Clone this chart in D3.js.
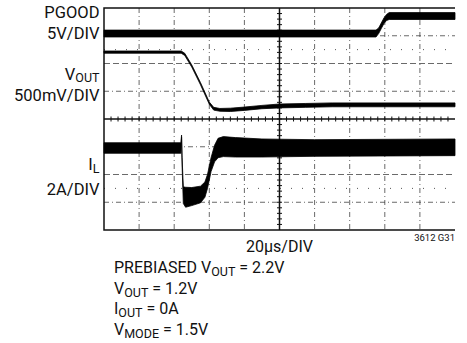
<!DOCTYPE html>
<html>
<head>
<meta charset="utf-8">
<script src="https://cdn.jsdelivr.net/npm/d3@7"></script>
<style>
	body { margin: 0; background: #fff; }
	text { font-family: Roboto, "Liberation Sans", sans-serif; fill: #111; }
</style>
</head>
<body>
<div id="scope"></div>
<script>
// traces: time in µs, value in channel units, noise = half width of the band
let pgood_t = [0, 155, 156.5, 158, 159.5, 161, 162.5, 200];
let pgood_v = [0, 0, 0.5, 1.4, 2.3, 2.9, 3.15, 3.15];
let pgood_n = [0.62, 0.62, 0.5, 0.5, 0.5, 0.55, 0.62, 0.62];

let vout_t = [0, 44, 46, 50, 55, 60, 62.5, 66, 72, 80, 90, 100, 115, 130, 200];
let vout_v = [2.17, 2.17, 2.13, 1.92, 1.6, 1.25, 1.15, 1.13, 1.13, 1.15, 1.18, 1.2, 1.21, 1.22, 1.22];
let vout_n = [0.02, 0.02, 0.02, 0.02, 0.02, 0.02, 0.025, 0.025, 0.03, 0.03, 0.03, 0.035, 0.035, 0.035, 0.035];

let il_t = [0, 43.8, 44.2, 44.5, 45.2, 46.5, 50, 55, 57.5, 59, 61, 63, 65, 68, 75, 90, 120, 200];
let il_v = [0, 0, 0.85, -1.0, -3.4, -3.55, -3.5, -3.35, -3.0, -2.4, -1.2, -0.4, 0, 0.1, 0.05, 0, 0, 0.05];
let il_n = [0.38, 0.38, 0.08, 0.3, 0.6, 0.72, 0.65, 0.6, 0.55, 0.5, 0.5, 0.6, 0.7, 0.72, 0.7, 0.65, 0.6, 0.6];

// channel settings: units per division, ground position in divisions
let ch_per_div = [5, 0.5, 2];
let ch_offset = [3.08, -1.93, -1.045];

// labels
let ch_name = ["PGOOD", "V", "I"];
let ch_sub = ["", "OUT", "L"];
let ch_scale = ["5V/DIV", "500mV/DIV", "2A/DIV"];
let time_label = "20µs/DIV";
let fig_id = "3612 G31";
let notes = [
	["PREBIASED V", "OUT", " = 2.2V"],
	["V", "OUT", " = 1.2V"],
	["I", "OUT", " = 0A"],
	["V", "MODE", " = 1.5V"]
];

function scope() {
	let container = "#scope",
		width = 467,
		height = 343;

	let box = {left: 104, right: 455, top: 8, bottom: 230};

	let svg = d3.select(container)
		.append("svg")
		.attr("width", width)
		.attr("height", height)

	svg.append("rect")
		.attr("width", width)
		.attr("height", height)
		.attr("fill", "#fff")

	let x = d3.scaleLinear()
		.domain([0, 200])
		.range([box.left, box.right])

	let y = d3.scaleLinear()
		.domain([4, -4])
		.range([box.top, box.bottom])

	let grid = svg.append("g").attr("class", "grid")

	// vertical divisions
	grid.selectAll(".vline")
		.data(d3.range(20, 200, 20).filter(function(d){ return d != 100 }))
		.enter()
		.append("line")
		.attr("x1", function(d){ return x(d) })
		.attr("x2", function(d){ return x(d) })
		.attr("y1", box.top)
		.attr("y2", box.bottom)
		.attr("stroke", "#444")
		.attr("stroke-width", 0.8)
		.attr("stroke-dasharray", "5,3,1,3")

	// horizontal divisions
	grid.selectAll(".hline")
		.data([3, 2, 1, -1, -2, -3])
		.enter()
		.append("line")
		.attr("x1", box.left)
		.attr("x2", box.right)
		.attr("y1", function(d){ return y(d) })
		.attr("y2", function(d){ return y(d) })
		.attr("stroke", "#444")
		.attr("stroke-width", 0.8)
		.attr("stroke-dasharray", function(d){ return Math.abs(d) == 2 ? "6,3" : "5,3,1,3" })

	// faint dotted rows
	grid.selectAll(".dline")
		.data([2.5, -2.5])
		.enter()
		.append("line")
		.attr("x1", box.left)
		.attr("x2", box.right)
		.attr("y1", function(d){ return y(d) })
		.attr("y2", function(d){ return y(d) })
		.attr("stroke", "#555")
		.attr("stroke-width", 1)
		.attr("stroke-dasharray", "1,10")

	// center axes
	grid.append("line")
		.attr("x1", x(100)).attr("x2", x(100))
		.attr("y1", box.top).attr("y2", box.bottom)
		.attr("stroke", "#111").attr("stroke-width", 1.5)
	grid.append("line")
		.attr("x1", box.left).attr("x2", box.right)
		.attr("y1", y(0)).attr("y2", y(0))
		.attr("stroke", "#111").attr("stroke-width", 1.5)

	grid.selectAll(".xtick")
		.data(d3.range(4, 200, 4))
		.enter()
		.append("line")
		.attr("x1", function(d){ return x(d) })
		.attr("x2", function(d){ return x(d) })
		.attr("y1", y(0) - 2.5)
		.attr("y2", y(0) + 2.5)
		.attr("stroke", "#111")
		.attr("stroke-width", 1)

	grid.selectAll(".ytick")
		.data(d3.range(-3.8, 4, 0.2))
		.enter()
		.append("line")
		.attr("x1", x(100) - 2.5)
		.attr("x2", x(100) + 2.5)
		.attr("y1", function(d){ return y(d) })
		.attr("y2", function(d){ return y(d) })
		.attr("stroke", "#111")
		.attr("stroke-width", 1)

	// border (top, left, bottom)
	svg.append("path")
		.attr("d", "M" + box.right + "," + box.top + "H" + box.left + "V" + box.bottom + "H" + box.right)
		.attr("fill", "none")
		.attr("stroke", "#111")
		.attr("stroke-width", 1.5)

	// traces
	let traces = [
		[pgood_t, pgood_v, pgood_n],
		[vout_t, vout_v, vout_n],
		[il_t, il_v, il_n]
	];

	traces.forEach(function(tr, c) {
		let pts = tr[0].map(function(t, i){
			return {t: t, v: tr[1][i], n: tr[2][i]}
		})
		let div = function(v){ return ch_offset[c] + v / ch_per_div[c] }
		let area = d3.area()
			.x(function(d){ return x(d.t) })
			.y0(function(d){ return y(div(d.v - d.n)) })
			.y1(function(d){ return y(div(d.v + d.n)) })
		svg.append("path")
			.datum(pts)
			.attr("d", area)
			.attr("fill", "#000")
			.attr("stroke", "#000")
			.attr("stroke-width", 0.8)
			.attr("stroke-linejoin", "round")
	})

	// channel labels
	let name_y = [18, 79.5, 170];
	let scale_y = [39, 101, 195];

	ch_name.forEach(function(n, i) {
		let t = svg.append("text")
			.attr("x", 99.5)
			.attr("y", name_y[i])
			.attr("text-anchor", "end")
			.style("font-size", "16.5px")
		t.append("tspan").text(n)
		if (ch_sub[i] != "") {
			t.append("tspan")
				.attr("dy", 2.5)
				.style("font-size", "12.5px")
				.text(ch_sub[i])
		}
		svg.append("text")
			.attr("x", 99.5)
			.attr("y", scale_y[i])
			.attr("text-anchor", "end")
			.style("font-size", "16.5px")
			.text(ch_scale[i])
	})

	svg.append("text")
		.attr("x", x(100))
		.attr("y", 252)
		.attr("text-anchor", "middle")
		.style("font-size", "16px")
		.text(time_label)

	svg.append("text")
		.attr("x", 455)
		.attr("y", 241)
		.attr("text-anchor", "end")
		.style("font-size", "9.5px")
		.text(fig_id)

	notes.forEach(function(n, i) {
		let t = svg.append("text")
			.attr("x", 114)
			.attr("y", 273 + i * 20.7)
			.style("font-size", "16px")
		t.append("tspan").text(n[0])
		t.append("tspan").attr("dy", 3).style("font-size", "12.5px").text(n[1])
		t.append("tspan").attr("dy", -3).text(n[2])
	})
}

scope();
</script>
</body>
</html>
